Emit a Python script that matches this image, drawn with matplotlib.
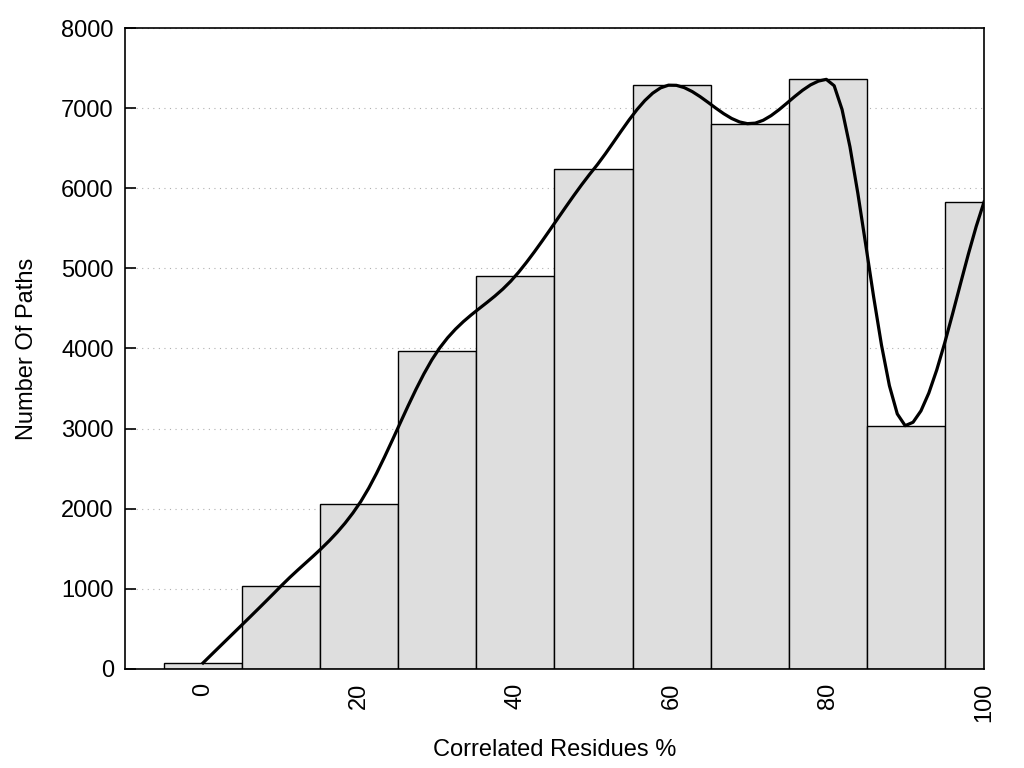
import numpy as np
import matplotlib
matplotlib.use("Agg")
import matplotlib.pyplot as plt

plt.rcParams['font.family'] = ['Liberation Sans', 'DejaVu Sans']

bins = [0, 10, 20, 30, 40, 50, 60, 70, 80, 90, 100]
counts = [75, 1036, 2060, 3965, 4905, 6235, 7290, 6805, 7360, 3035, 5830]
xticks = [0, 20, 40, 60, 80, 100]
yticks = [0, 1000, 2000, 3000, 4000, 5000, 6000, 7000, 8000]


def monotone_cspline(x, y, n=100):
    """Fritsch-Carlson monotone cubic spline (like gnuplot 'smooth mcsplines')."""
    x = np.asarray(x, float)
    y = np.asarray(y, float)
    m = len(x)
    h = np.diff(x)
    d = np.diff(y) / h
    t = np.zeros(m)
    t[0] = d[0]
    t[-1] = d[-1]
    for i in range(1, m - 1):
        if d[i - 1] * d[i] <= 0:
            t[i] = 0.0
        else:
            t[i] = (d[i - 1] + d[i]) / 2
    for i in range(m - 1):
        if d[i] == 0:
            t[i] = t[i + 1] = 0.0
            continue
        a = t[i] / d[i]
        b = t[i + 1] / d[i]
        s = a * a + b * b
        if s > 9:
            tau = 3 / np.sqrt(s)
            t[i] = tau * a * d[i]
            t[i + 1] = tau * b * d[i]
    xs = np.linspace(x[0], x[-1], n)
    ys = np.empty_like(xs)
    for k, xv in enumerate(xs):
        i = min(np.searchsorted(x, xv, side='right') - 1, m - 2)
        hi = h[i]
        u = (xv - x[i]) / hi
        h00 = 2 * u ** 3 - 3 * u ** 2 + 1
        h10 = u ** 3 - 2 * u ** 2 + u
        h01 = -2 * u ** 3 + 3 * u ** 2
        h11 = u ** 3 - u ** 2
        ys[k] = h00 * y[i] + h10 * hi * t[i] + h01 * y[i + 1] + h11 * hi * t[i + 1]
    return xs, ys


fig = plt.figure(figsize=(10.24, 7.68), dpi=100)
ax = fig.add_axes([0.122, 0.129, 0.839, 0.8345])

ax.bar(bins, counts, width=10, color='#dedede', edgecolor='black', linewidth=1.0, zorder=2)
sx, sy = monotone_cspline(bins, counts, 100)
ax.plot(sx, sy, color='black', linewidth=2.3, zorder=3)

ax.set_xlim(-10, 100)
ax.set_ylim(0, 8000)
ax.set_xticks(xticks)
ax.set_xticklabels([str(v) for v in xticks], rotation=90, fontsize=17)
ax.set_yticks(yticks)
ax.set_yticklabels([str(v) for v in yticks], fontsize=17)
ax.tick_params(axis='x', length=0, pad=10)
ax.tick_params(axis='y', direction='in', length=8, width=1.2, pad=8)
ax.yaxis.grid(True, linestyle=(0, (1, 4)), color='#b0b0b0', linewidth=0.8, zorder=0)
ax.set_axisbelow(True)
for s in ax.spines.values():
    s.set_linewidth(1.2)

ax.set_xlabel('Correlated Residues %', fontsize=17, labelpad=12)
ax.set_ylabel('Number Of Paths', fontsize=17, labelpad=17)

fig.savefig('out.png', dpi=100)
